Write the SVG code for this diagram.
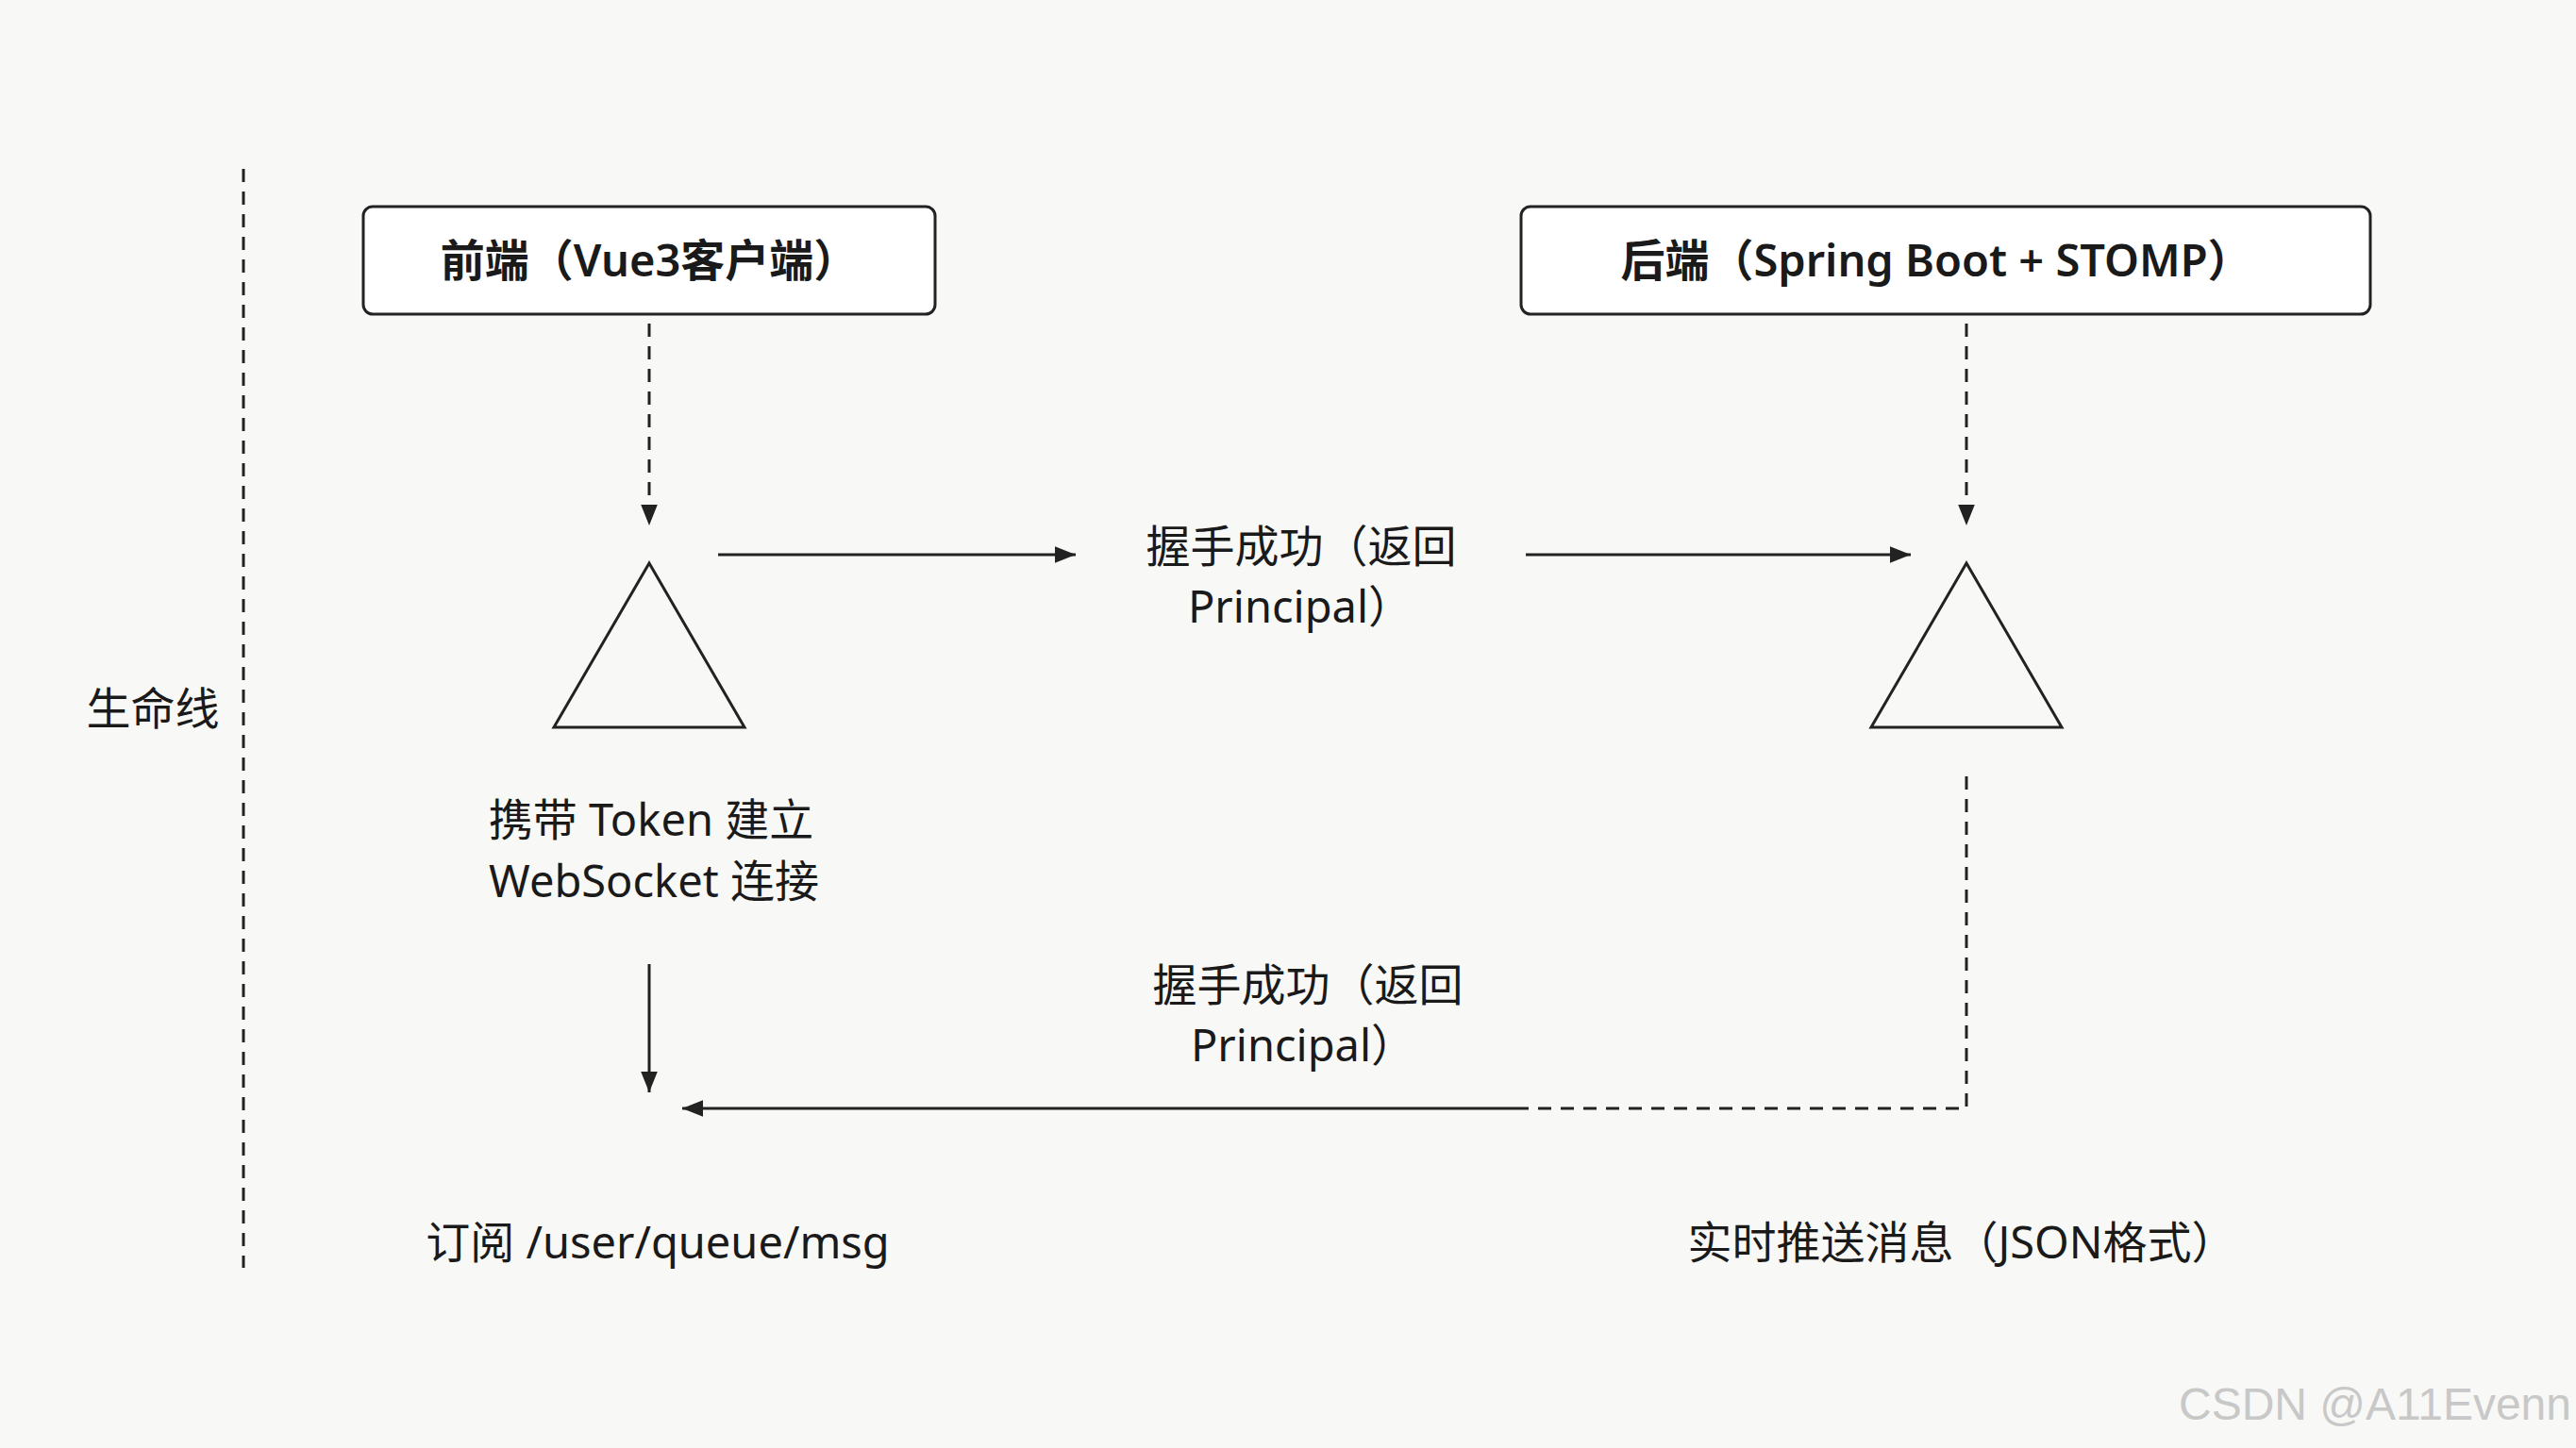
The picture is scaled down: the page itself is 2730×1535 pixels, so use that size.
<svg xmlns="http://www.w3.org/2000/svg" width="2730" height="1535" viewBox="0 0 2730 1535">
<defs>
<marker id="ahb" viewBox="0 0 10 10" refX="10" refY="5" markerWidth="22" markerHeight="22" markerUnits="userSpaceOnUse" orient="auto"><path d="M0,1 L10,5 L0,9 z" fill="#222"/></marker>
</defs>
<style>
text{font-family:"Noto Sans","Noto Sans CJK SC",sans-serif;fill:#1a1a1a;text-anchor:middle}
.t{font-size:47px}
.b{font-size:47px;font-weight:600}
.ln{stroke:#222;stroke-width:3;fill:none}
.d{stroke-dasharray:14 10}
.box{fill:#fff;stroke:#222;stroke-width:3}
</style>
<rect width="2730" height="1535" fill="#f8f8f6"/>
<g id="lifeline">
<line class="ln d" x1="258" y1="179" x2="258" y2="1344"/>
<text class="t" x="162" y="768">生命线</text>
</g>
<g id="frontend">
<rect class="box" x="385" y="219" width="606" height="114" rx="10"/>
<text class="b" x="688" y="293">前端（Vue3客户端）</text>
</g>
<g id="backend">
<rect class="box" x="1612" y="219" width="900" height="114" rx="10"/>
<text class="b" x="2052" y="293">后端（Spring Boot + STOMP）</text>
</g>
<g id="tri1"><polygon class="ln" points="688,597 587,771 789,771"/></g>
<g id="tri2"><polygon class="ln" points="2084,597 1983,771 2185,771"/></g>
<g id="connectors">
<line class="ln d" x1="688" y1="343" x2="688" y2="557" marker-end="url(#ahb)"/>
<line class="ln d" x1="2084" y1="343" x2="2084" y2="557" marker-end="url(#ahb)"/>
<line class="ln" x1="761" y1="588" x2="1140" y2="588" marker-end="url(#ahb)"/>
<line class="ln" x1="1617" y1="588" x2="2025" y2="588" marker-end="url(#ahb)"/>
<line class="ln" x1="688" y1="1022" x2="688" y2="1158" marker-end="url(#ahb)"/>
<polyline class="ln d" points="2084,823 2084,1175 1610,1175"/>
<line class="ln" x1="1610" y1="1175" x2="723" y2="1175" marker-end="url(#ahb)"/>
</g>
<g id="labels">
<text class="t" x="1379" y="596">握手成功（返回</text>
<text class="t" x="1378" y="660">Principal）</text>
<text class="t" x="690" y="886">携带 Token 建立</text>
<text class="t" x="693" y="951">WebSocket 连接</text>
<text class="t" x="1386" y="1061">握手成功（返回</text>
<text class="t" x="1381" y="1125">Principal）</text>
<text class="t" x="697" y="1334">订阅 /user/queue/msg</text>
<text class="t" x="2079" y="1334">实时推送消息（JSON格式）</text>
</g>
<text x="2725" y="1505" style="font-family:'Liberation Sans',sans-serif;font-size:48px;fill:#c8c8c8;text-anchor:end">CSDN @A11Evenn</text>
</svg>
